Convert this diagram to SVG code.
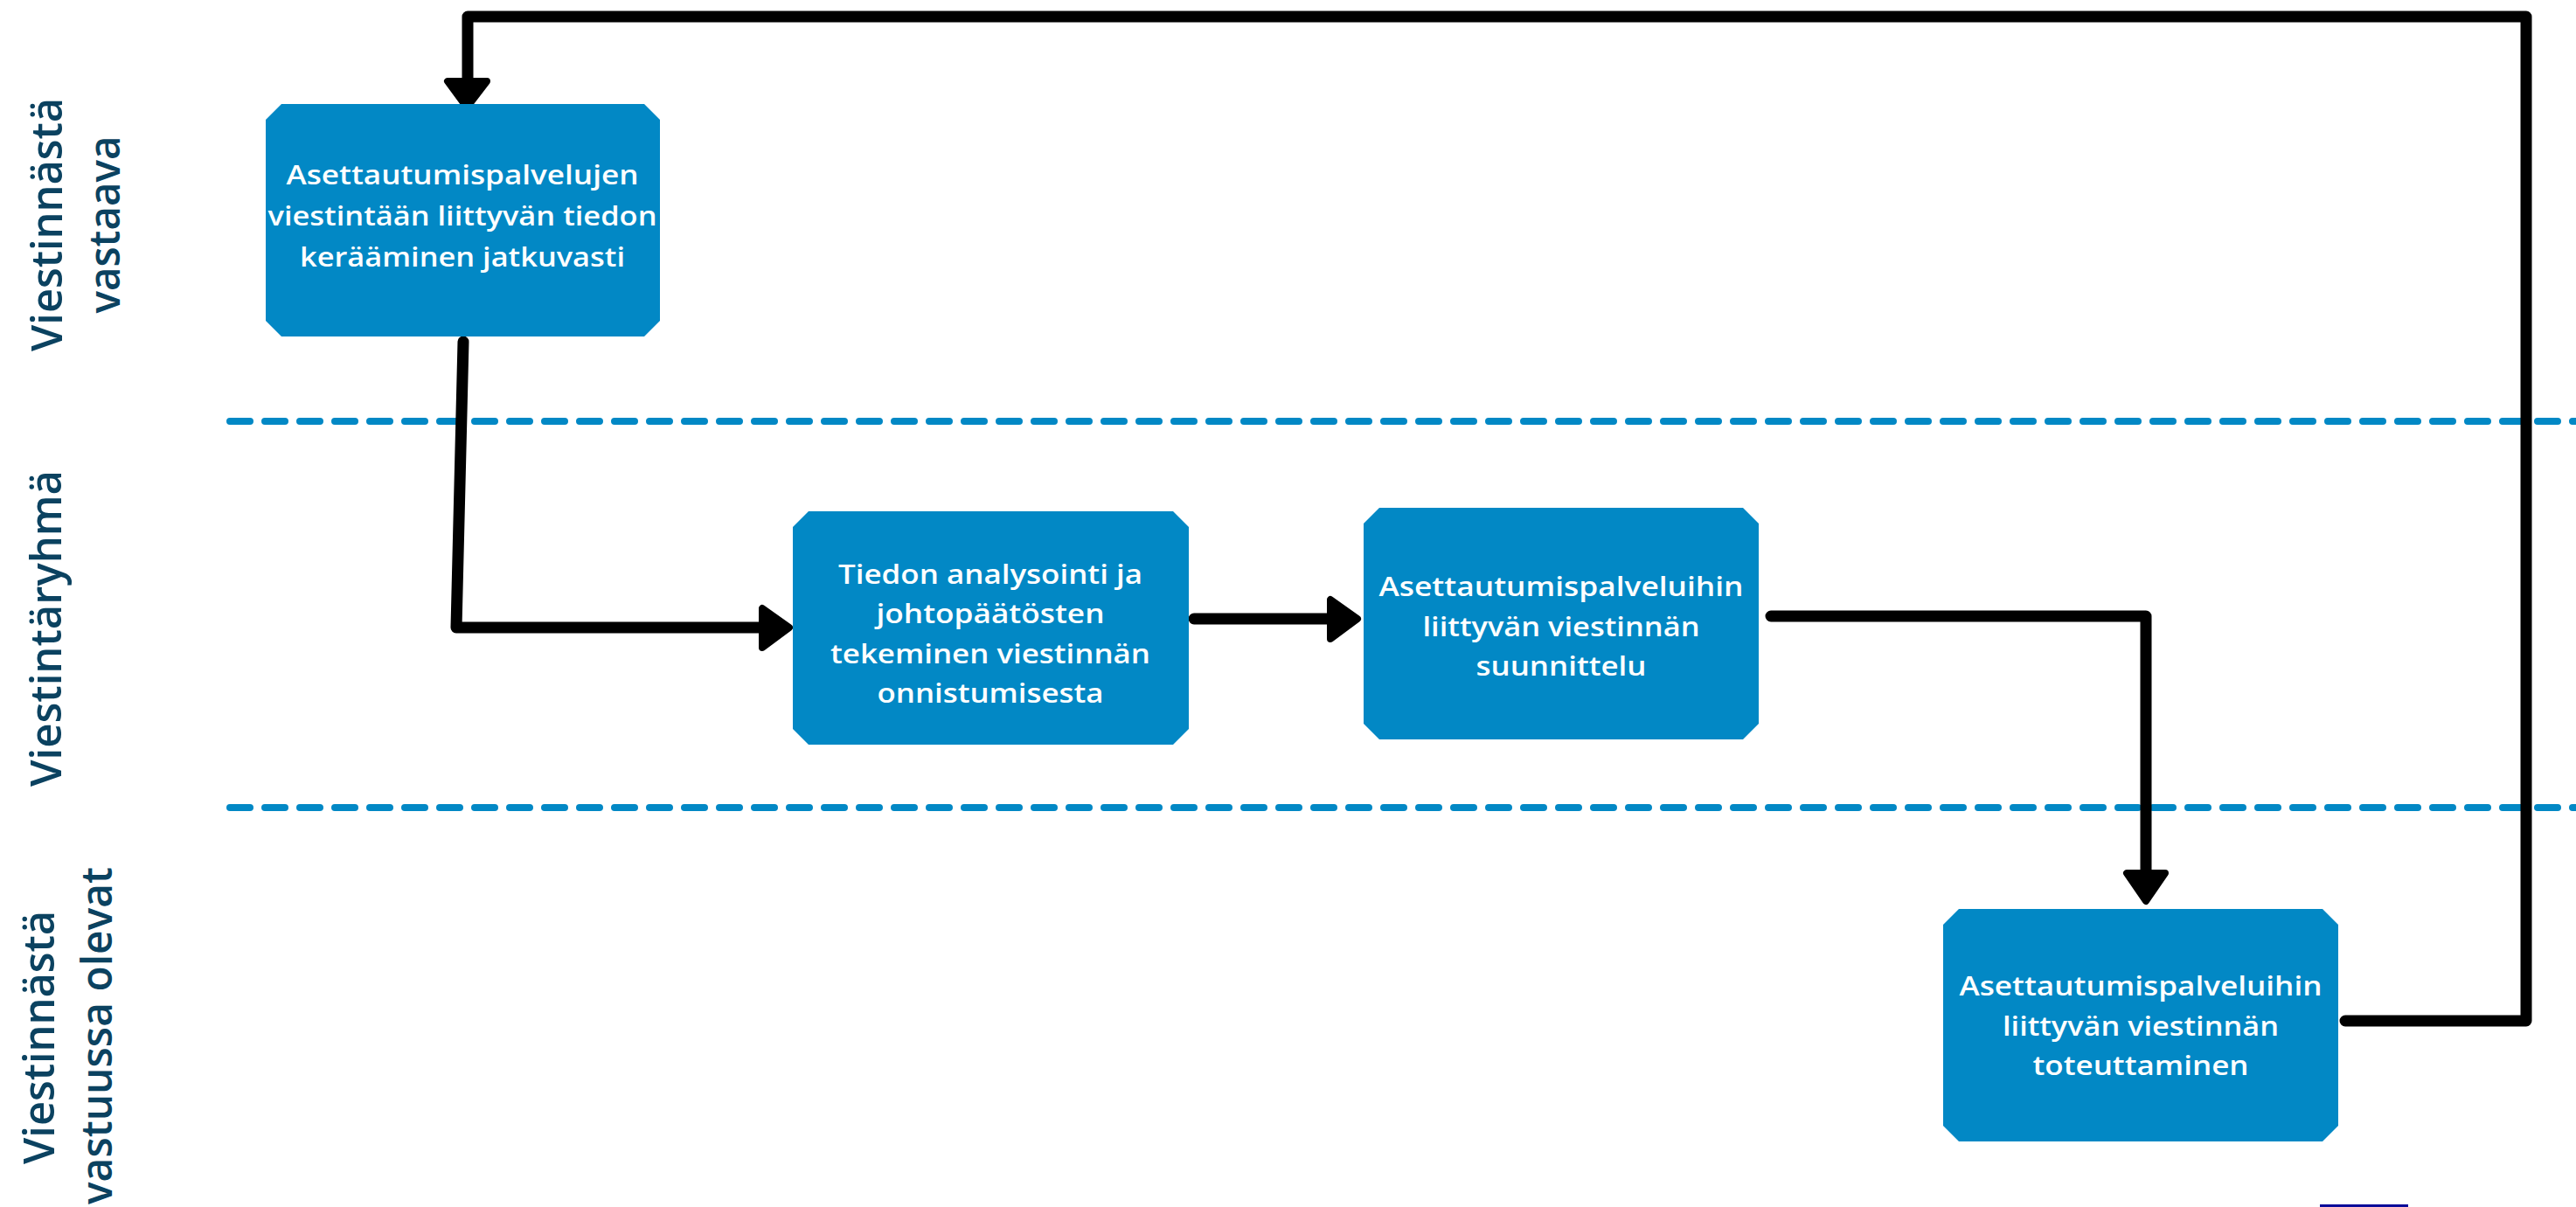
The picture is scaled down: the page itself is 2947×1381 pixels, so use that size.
<svg xmlns="http://www.w3.org/2000/svg" width="2947" height="1381" viewBox="0 0 2947 1381">
  <style>
    .lane { font-family: "Open Sans", "Liberation Sans", sans-serif; font-size: 48px; font-weight: 600; fill: #0b4260; text-anchor: middle; }
    .box { fill: #0288c5; }
    .bt { font-family: "Open Sans", "Liberation Sans", sans-serif; font-size: 31px; font-weight: 600; fill: #ffffff; text-anchor: middle; }
    .sep { fill: none; stroke: #0288c5; stroke-width: 8; stroke-dasharray: 23 17; stroke-linecap: round; }
    .conn { fill: none; stroke: #000000; stroke-width: 13; stroke-linecap: round; stroke-linejoin: round; }
    .head { fill: #000000; stroke: #000000; stroke-width: 8; stroke-linejoin: round; }
  </style>
  <rect x="0" y="0" width="2947" height="1381" fill="#ffffff"/>

  <g id="lanes">
    <text class="lane" transform="translate(71,257) rotate(-90)" textLength="290" lengthAdjust="spacingAndGlyphs">Viestinnästä</text>
    <text class="lane" transform="translate(137,257) rotate(-90)" textLength="203" lengthAdjust="spacingAndGlyphs">vastaava</text>
    <text class="lane" transform="translate(70,719) rotate(-90)" textLength="362" lengthAdjust="spacingAndGlyphs">Viestintäryhmä</text>
    <text class="lane" transform="translate(62,1187) rotate(-90)" textLength="290" lengthAdjust="spacingAndGlyphs">Viestinnästä</text>
    <text class="lane" transform="translate(128,1185) rotate(-90)" textLength="386" lengthAdjust="spacingAndGlyphs">vastuussa olevat</text>
    <path class="sep" d="M263,482 H2947"/>
    <path class="sep" d="M263,924 H2947"/>
  </g>

  <g id="connectors">
    <path class="conn" d="M2683,1168 H2890 V19 H535 V92"/>
    <polygon class="head" points="512,93 557,93 534,123"/>
    <path class="conn" d="M530,391 L522,718 H872"/>
    <polygon class="head" points="872,696 872,741 903,718"/>
    <path class="conn" d="M1366,708 H1522"/>
    <polygon class="head" points="1522,686 1522,731 1553,708"/>
    <path class="conn" d="M2026,705 H2455 V998"/>
    <polygon class="head" points="2433,999 2477,999 2455,1031"/>
  </g>

  <g id="node1">
    <path class="box" d="M322,119 H737 L755,137 V367 L737,385 H322 L304,367 V137 Z"/>
    <text class="bt" x="529" y="211" textLength="403" lengthAdjust="spacingAndGlyphs">Asettautumispalvelujen</text>
    <text class="bt" x="529" y="258" textLength="445" lengthAdjust="spacingAndGlyphs">viestintään liittyvän tiedon</text>
    <text class="bt" x="529" y="305" textLength="372" lengthAdjust="spacingAndGlyphs">kerääminen jatkuvasti</text>
  </g>

  <g id="node2">
    <path class="box" d="M925,585 H1342 L1360,603 V834 L1342,852 H925 L907,834 V603 Z"/>
    <text class="bt" x="1133" y="668" textLength="348" lengthAdjust="spacingAndGlyphs">Tiedon analysointi ja</text>
    <text class="bt" x="1133" y="713" textLength="261" lengthAdjust="spacingAndGlyphs">johtopäätösten</text>
    <text class="bt" x="1133" y="759" textLength="366" lengthAdjust="spacingAndGlyphs">tekeminen viestinnän</text>
    <text class="bt" x="1133" y="804" textLength="259" lengthAdjust="spacingAndGlyphs">onnistumisesta</text>
  </g>

  <g id="node3">
    <path class="box" d="M1578,581 H1994 L2012,599 V828 L1994,846 H1578 L1560,828 V599 Z"/>
    <text class="bt" x="1786" y="682" textLength="417" lengthAdjust="spacingAndGlyphs">Asettautumispalveluihin</text>
    <text class="bt" x="1786" y="728" textLength="317" lengthAdjust="spacingAndGlyphs">liittyvän viestinnän</text>
    <text class="bt" x="1786" y="773" textLength="195" lengthAdjust="spacingAndGlyphs">suunnittelu</text>
  </g>

  <g id="node4">
    <path class="box" d="M2241,1040 H2657 L2675,1058 V1288 L2657,1306 H2241 L2223,1288 V1058 Z"/>
    <text class="bt" x="2449" y="1139" textLength="415" lengthAdjust="spacingAndGlyphs">Asettautumispalveluihin</text>
    <text class="bt" x="2449" y="1185" textLength="316" lengthAdjust="spacingAndGlyphs">liittyvän viestinnän</text>
    <text class="bt" x="2449" y="1230" textLength="247" lengthAdjust="spacingAndGlyphs">toteuttaminen</text>
  </g>

  <rect x="2654" y="1378" width="101" height="3" fill="#0c0c99"/>
</svg>
